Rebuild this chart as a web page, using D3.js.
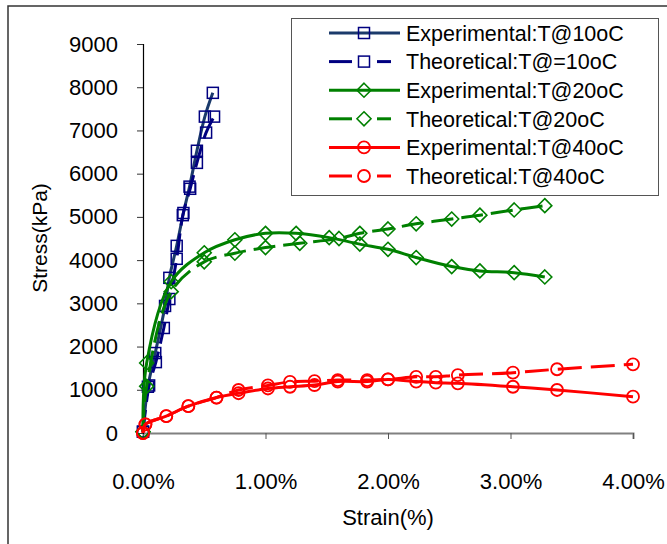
<!DOCTYPE html>
<html><head><meta charset="utf-8">
<script src="https://cdn.jsdelivr.net/npm/d3@7"></script>
<style>body{margin:0;background:#fff}svg{display:block}text{font-family:"Liberation Sans",Arial,sans-serif}</style>
</head><body><svg id="c" width="667" height="544"></svg>
<script>
// Data (strain %, stress kPa)
const seriesNames = ["Experimental:T@10oC","Theoretical:T@=10oC","Experimental:T@20oC","Theoretical:T@20oC","Experimental:T@40oC","Theoretical:T@40oC"];
const exp10Strain = [0,0.04,0.10,0.18,0.215,0.275,0.33,0.38,0.44,0.505,0.57];
const exp10Stress = [30,1070,1850,2940,3590,4330,5090,5700,6530,7320,7870];
const the10Strain = [0,0.05,0.105,0.17,0.215,0.275,0.325,0.385,0.44,0.515,0.58];
const the10Stress = [30,1100,1640,2430,3100,4030,5040,5650,6250,6950,7320];
const exp20Strain = [0,0.03,0.23,0.5,0.75,1.0,1.25,1.52,1.77,2.0,2.23,2.52,2.75,3.03,3.28];
const exp20Stress = [30,1620,3500,4170,4470,4620,4620,4520,4370,4250,4060,3850,3750,3710,3610];
const the20Strain = [0,0.03,0.23,0.5,0.75,1.0,1.28,1.6,1.77,2.0,2.23,2.52,2.75,3.03,3.28];
const the20Stress = [30,1080,3270,3960,4160,4290,4390,4500,4620,4720,4840,4950,5040,5160,5260];
const exp40Strain = [0,0.02,0.19,0.37,0.6,0.78,1.02,1.2,1.4,1.59,1.83,2.0,2.23,2.39,2.57,3.02,3.38,4.0];
const exp40Stress = [0,200,390,620,820,920,1030,1070,1110,1190,1190,1240,1190,1165,1150,1070,995,840];
const the40Strain = [0,0.02,0.19,0.37,0.6,0.78,1.02,1.2,1.4,1.59,1.83,2.0,2.23,2.39,2.57,3.02,3.38,4.0];
const the40Stress = [0,200,390,620,820,995,1100,1185,1200,1225,1225,1240,1300,1300,1340,1395,1475,1590];
const yTicks = [0,1000,2000,3000,4000,5000,6000,7000,8000,9000];
const xTicks = [0,1,2,3,4];

const svg = d3.select("#c");
const x = d3.scaleLinear().domain([0,4]).range([143,633]);
const y = d3.scaleLinear().domain([0,9000]).range([433,44]);

// outer border
svg.append("rect").attr("x",8).attr("y",6).attr("width",700).attr("height",600)
  .attr("fill","none").attr("stroke","#333").attr("stroke-width",1.5);

// axes
const xa = svg.append("g").attr("transform","translate(0,433)")
  .call(d3.axisBottom(x).tickValues(xTicks).tickSize(6).tickPadding(34).tickFormat(d=>d.toFixed(2)+"%"));
xa.select(".domain").attr("stroke","#808080").attr("stroke-width",2);
xa.selectAll(".tick line").attr("stroke","#555");
xa.selectAll("text").attr("font-size",22).attr("fill","#000");
const ya = svg.append("g").attr("transform","translate(143,0)")
  .call(d3.axisLeft(y).tickValues(yTicks).tickSize(6).tickPadding(19).tickFormat(d3.format("d")));
ya.select(".domain").attr("stroke","#000").attr("stroke-width",1.2);
ya.selectAll(".tick line").attr("stroke","#333");
ya.selectAll("text").attr("font-size",22).attr("fill","#000");

svg.append("text").attr("x",388).attr("y",525).attr("text-anchor","middle").attr("font-size",22).text("Strain(%)");
svg.append("text").attr("transform","translate(47,238) rotate(-90)").attr("text-anchor","middle").attr("font-size",21).text("Stress(kPa)");

const series = [
  {sx:exp10Strain, sy:exp10Stress, line:"#1B3A6B", mk:"#000080", dash:null, shape:"square"},
  {sx:the10Strain, sy:the10Stress, line:"#000080", mk:"#000080", dash:"22,8", shape:"square"},
  {sx:exp20Strain, sy:exp20Stress, line:"#008000", mk:"#008000", dash:null, shape:"diamond"},
  {sx:the20Strain, sy:the20Stress, line:"#008000", mk:"#008000", dash:"22,8", shape:"diamond"},
  {sx:exp40Strain, sy:exp40Stress, line:"#FF0000", mk:"#FF0000", dash:null, shape:"circle"},
  {sx:the40Strain, sy:the40Stress, line:"#FF0000", mk:"#FF0000", dash:"24,9", shape:"circle"}
];

function marker(g, shape, cx, cy, col){
  if(shape==="square") g.append("rect").attr("x",cx-5.5).attr("y",cy-5.5).attr("width",11).attr("height",11)
     .attr("fill","none").attr("stroke",col).attr("stroke-width",1.5);
  else if(shape==="diamond") g.append("path").attr("d",`M${cx},${cy-7}L${cx+7},${cy}L${cx},${cy+7}L${cx-7},${cy}Z`)
     .attr("fill","none").attr("stroke",col).attr("stroke-width",1.6);
  else g.append("circle").attr("cx",cx).attr("cy",cy).attr("r",6)
     .attr("fill","none").attr("stroke",col).attr("stroke-width",1.8);
}

const line = d3.line().x(d=>x(d[0])).y(d=>y(d[1])).curve(d3.curveCatmullRom.alpha(0.5));
const plot = svg.append("g");
series.forEach(s=>{
  const pts = s.sx.map((v,i)=>[v,s.sy[i]]);
  const g = plot.append("g");
  g.append("path").attr("d",line(pts)).attr("fill","none").attr("stroke",s.line)
    .attr("stroke-width",3).attr("stroke-dasharray",s.dash);
  pts.forEach(p=>marker(g,s.shape,x(p[0]),y(p[1]),s.mk));
});

// legend
const lg = svg.append("g");
lg.append("rect").attr("x",291.5).attr("y",18.5).attr("width",367).attr("height",177)
  .attr("fill","#fff").attr("stroke","#555").attr("stroke-width",1);
series.forEach((s,i)=>{
  const cy = 33 + i*28.6;
  if(s.dash){
    lg.append("line").attr("x1",329).attr("x2",352).attr("y1",cy).attr("y2",cy).attr("stroke",s.line).attr("stroke-width",3);
    lg.append("line").attr("x1",377).attr("x2",391).attr("y1",cy).attr("y2",cy).attr("stroke",s.line).attr("stroke-width",3);
  } else {
    lg.append("line").attr("x1",329).attr("x2",400).attr("y1",cy).attr("y2",cy).attr("stroke",s.line).attr("stroke-width",3);
  }
  marker(lg,s.shape,364,cy,s.mk);
  lg.append("text").attr("x",406).attr("y",cy).attr("dy","0.36em").attr("font-size",21.5).text(seriesNames[i]);
});
</script></body></html>
